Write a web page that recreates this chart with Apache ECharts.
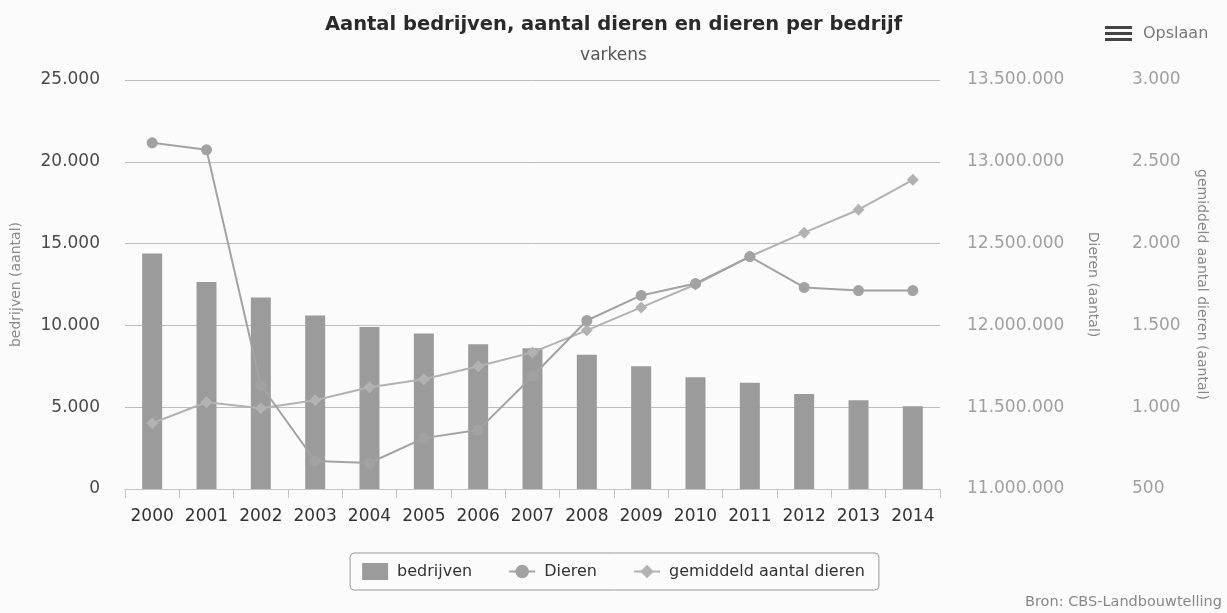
<!DOCTYPE html>
<html>
<head>
<meta charset="utf-8">
<script src="https://cdn.jsdelivr.net/npm/echarts@6/dist/echarts.min.js"></script>
<style>
  html, body { margin: 0; padding: 0; background: #fbfbfb; }
  #chart { width: 1227px; height: 613px; }
</style>
</head>
<body>
<div id="chart"></div>
<script>
// Varkens: aantal bedrijven, aantal dieren en gemiddeld aantal dieren per bedrijf
const years = ['2000', '2001', '2002', '2003', '2004', '2005', '2006', '2007',
               '2008', '2009', '2010', '2011', '2012', '2013', '2014'];
const bedrijven = [14400, 12650, 11700, 10600, 9900, 9500, 8850, 8600,
                   8200, 7500, 6830, 6500, 5800, 5430, 5060];
const dieren = [13116000, 13073000, 11634000, 11171000, 11159000, 11311000, 11360000, 11689000,
                12030000, 12183000, 12256000, 12421000, 12232000, 12213000, 12213000];
const gemiddeld = [902, 1030, 994, 1043, 1122, 1171, 1250, 1335,
                   1470, 1610, 1750, 1921, 2067, 2207, 2390];

const leftTicks = { min: 0, max: 25000, interval: 5000 };
const dierenTicks = { min: 11000000, max: 13500000, interval: 500000 };
const gemTicks = { min: 500, max: 3000, interval: 500 };

const FONT = '"DejaVu Sans", Verdana, sans-serif';

// Dutch thousands separator
function nl(v) {
  return String(Math.round(v)).replace(/\B(?=(\d{3})+(?!\d))/g, '.');
}

const chart = echarts.init(document.getElementById('chart'), null, { renderer: 'canvas' });

chart.setOption({
  backgroundColor: '#fbfbfb',
  animation: false,
  textStyle: { fontFamily: FONT },
  title: {
    text: 'Aantal bedrijven, aantal dieren en dieren per bedrijf',
    subtext: 'varkens',
    left: 'center',
    top: 10,
    itemGap: 12,
    textStyle: { fontFamily: FONT, fontSize: 19.5, fontWeight: 'bold', color: '#2a2a2a' },
    subtextStyle: { fontFamily: FONT, fontSize: 17, color: '#555' }
  },
  legend: {
    top: 553,
    left: 'center',
    padding: [10, 14, 10, 12],
    itemGap: 36,
    itemWidth: 26,
    itemHeight: 17,
    borderColor: '#9a9a9a',
    borderWidth: 1,
    borderRadius: 4,
    textStyle: { fontFamily: FONT, fontSize: 16, color: '#333', padding: [0, 0, 0, 4] },
    data: [
      { name: 'bedrijven', icon: 'rect' },
      { name: 'Dieren' },
      { name: 'gemiddeld aantal dieren' }
    ]
  },
  grid: { left: 125, right: 287, top: 80, bottom: 124 },
  xAxis: {
    type: 'category',
    data: years,
    boundaryGap: true,
    axisLine: { lineStyle: { color: '#c4c4c4', width: 1 } },
    axisTick: { show: true, interval: 0, alignWithLabel: false, length: 9, lineStyle: { color: '#c4c4c4' } },
    axisLabel: { interval: 0, fontFamily: FONT, fontSize: 17, color: '#333', margin: 19 }
  },
  yAxis: [
    {
      type: 'value',
      position: 'left',
      min: leftTicks.min, max: leftTicks.max, interval: leftTicks.interval,
      name: 'bedrijven (aantal)',
      nameLocation: 'middle',
      nameGap: 102,
      nameTextStyle: { fontFamily: FONT, fontSize: 14, color: '#888' },
      axisLine: { show: false },
      axisTick: { show: false },
      axisLabel: { fontFamily: FONT, fontSize: 17, color: '#4a4a4a', margin: 25, formatter: nl },
      splitLine: { show: true, lineStyle: { color: '#bdbdbd', width: 1 } }
    },
    {
      type: 'value',
      position: 'right',
      min: dierenTicks.min, max: dierenTicks.max, interval: dierenTicks.interval,
      name: 'Dieren (aantal)',
      nameLocation: 'middle',
      nameRotate: -90,
      nameGap: 146,
      nameTextStyle: { fontFamily: FONT, fontSize: 14, color: '#888' },
      axisLine: { show: false },
      axisTick: { show: false },
      axisLabel: { fontFamily: FONT, fontSize: 17, color: '#a0a0a0', margin: 27, formatter: nl },
      splitLine: { show: false }
    },
    {
      type: 'value',
      position: 'right',
      offset: 165,
      min: gemTicks.min, max: gemTicks.max, interval: gemTicks.interval,
      name: 'gemiddeld aantal dieren (aantal)',
      nameLocation: 'middle',
      nameRotate: -90,
      nameGap: 90,
      nameTextStyle: { fontFamily: FONT, fontSize: 14, color: '#888' },
      axisLine: { show: false },
      axisTick: { show: false },
      axisLabel: { fontFamily: FONT, fontSize: 17, color: '#a0a0a0', margin: 27, formatter: nl },
      splitLine: { show: false }
    }
  ],
  series: [
    {
      name: 'bedrijven',
      type: 'bar',
      yAxisIndex: 0,
      data: bedrijven,
      barWidth: 20,
      itemStyle: { color: '#9b9b9b' },
      z: 1
    },
    {
      name: 'Dieren',
      type: 'line',
      yAxisIndex: 1,
      data: dieren,
      symbol: 'circle',
      symbolSize: 11,
      showAllSymbol: true,
      lineStyle: { color: '#a2a2a2', width: 2 },
      itemStyle: { color: '#a2a2a2' },
      z: 3
    },
    {
      name: 'gemiddeld aantal dieren',
      type: 'line',
      yAxisIndex: 2,
      data: gemiddeld,
      symbol: 'diamond',
      symbolSize: 12,
      showAllSymbol: true,
      lineStyle: { color: '#b2b2b2', width: 2 },
      itemStyle: { color: '#b2b2b2' },
      z: 2
    }
  ],
  graphic: [
    {
      type: 'group',
      left: 1105,
      top: 26,
      children: [
        { type: 'rect', shape: { x: 0, y: 0, width: 27, height: 3 }, style: { fill: '#444' } },
        { type: 'rect', shape: { x: 0, y: 6, width: 27, height: 3 }, style: { fill: '#444' } },
        { type: 'rect', shape: { x: 0, y: 12, width: 27, height: 3 }, style: { fill: '#444' } }
      ]
    },
    {
      type: 'text',
      left: 1143,
      top: 26,
      style: { text: 'Opslaan', fontFamily: FONT, fontSize: 16, fill: '#777' }
    },
    {
      type: 'text',
      right: 5,
      top: 595,
      style: { text: 'Bron: CBS-Landbouwtelling', fontFamily: FONT, fontSize: 14.5, fill: '#888' }
    }
  ]
});
</script>
</body>
</html>
